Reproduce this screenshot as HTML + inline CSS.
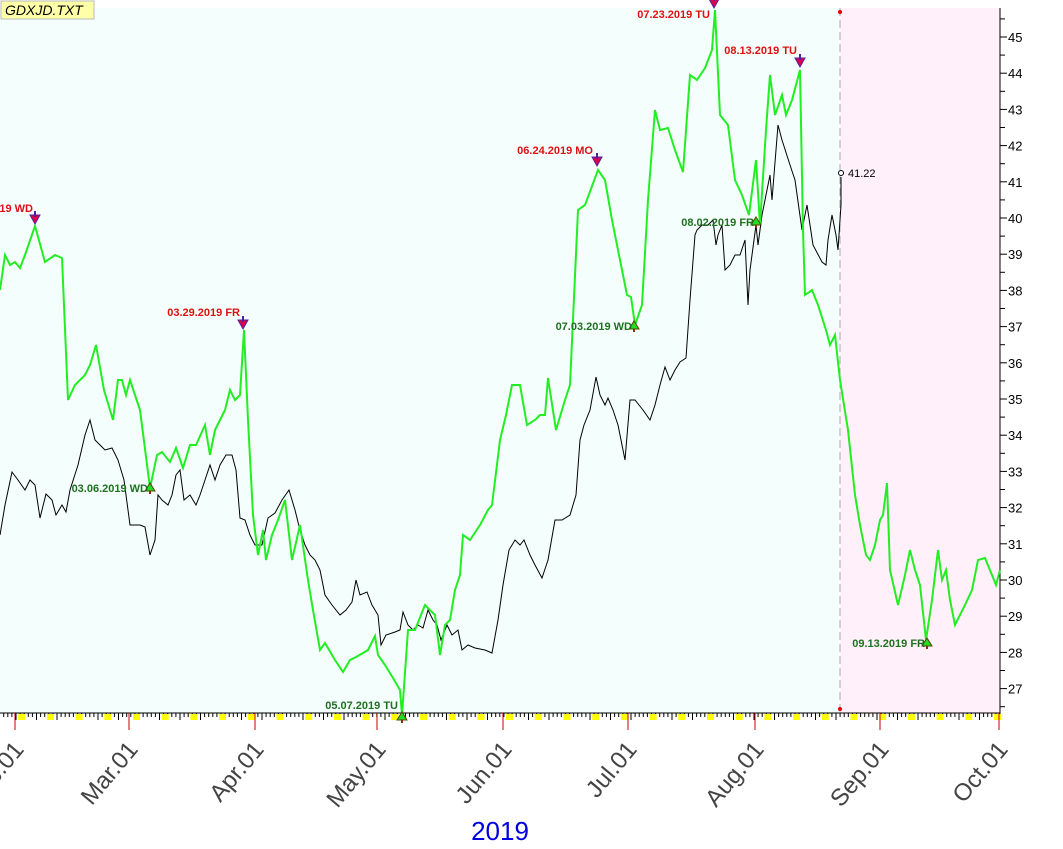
<!DOCTYPE html>
<html><head><meta charset="utf-8"><style>
html,body{margin:0;padding:0;background:#fff;}
svg{display:block;font-family:"Liberation Sans",Arial,sans-serif;}
</style></head><body>
<svg width="1063" height="849" viewBox="0 0 1063 849" xmlns="http://www.w3.org/2000/svg">
<rect x="0" y="8" width="840" height="705" fill="#f4fffd"/>
<rect x="840" y="8" width="160" height="705" fill="#fff0fa"/>
<line x1="840" y1="8" x2="840" y2="713" stroke="#aaa" stroke-dasharray="8,4"/>
<circle cx="840" cy="12" r="2" fill="#e00"/>
<circle cx="840" cy="709" r="2" fill="#e00"/>
<line x1="1000" y1="8" x2="1000" y2="713" stroke="#000"/>
<line x1="0" y1="713" x2="1000" y2="713" stroke="#000"/>
<g id="yax" font-size="13" fill="#000"></g>
<g id="xax"></g>
<polyline fill="none" stroke="#000" stroke-width="1" points="0,535 5,505 12,472 18,480 25,490 30,480 35,485 40,518 46,494 52,500 56,515 62,505 66,512 70,490 78,465 85,435 90,420 95,440 100,445 105,450 112,448 118,460 124,480 130,525 140,525 145,527 150,555 155,540 158,495 162,500 168,505 172,495 176,475 180,470 184,500 190,495 196,505 200,495 205,480 210,465 215,480 220,465 226,455 232,455 236,470 240,518 245,520 250,535 255,545 262,545 268,518 275,513 282,500 289,490 295,510 300,530 305,545 310,555 315,560 320,570 325,595 332,605 340,615 346,610 352,602 356,580 360,595 367,592 372,605 378,615 381,645 386,635 395,632 400,630 403,612 408,625 413,630 418,625 423,628 428,610 433,620 437,625 441,640 447,625 452,635 458,630 462,650 468,645 475,648 485,650 492,653 498,620 503,585 509,550 515,540 520,545 524,540 530,555 535,565 542,578 548,560 555,520 562,520 570,515 576,495 580,440 584,425 590,410 596,377 600,395 605,405 608,398 613,410 618,425 625,460 630,400 635,400 643,410 650,420 655,405 660,385 665,367 670,380 675,370 680,362 686,358 690,300 695,235 697,230 702,225 708,225 713,220 716,245 718,235 722,225 725,270 730,265 735,255 740,255 745,240 748,305 750,270 756,225 758,245 762,215 770,175 772,200 778,125 782,140 790,165 795,180 802,230 807,205 813,245 822,262 826,265 828,240 832,215 836,235 838,250 841,205 841,177"/>
<circle cx="841" cy="173" r="2.5" fill="#fff" stroke="#000"/>
<text x="848" y="177" font-size="11" fill="#000">41.22</text>
<polyline fill="none" stroke="#22ee22" stroke-width="2" points="0,290 5,255 10,265 15,262 20,268 25,255 35,226 45,262 55,255 62,258 68,400 75,385 85,375 90,365 96,345 104,390 113,420 118,380 122,380 126,395 130,380 140,410 150,488 157,455 162,452 170,462 176,448 183,468 190,445 196,445 205,425 210,455 215,430 225,410 230,390 235,400 240,395 244,330 248,420 253,515 258,555 263,530 266,560 272,535 278,520 285,500 292,560 300,525 308,580 313,610 320,650 325,643 335,660 343,672 350,660 358,656 368,650 375,636 378,655 385,665 393,678 400,690 402,715 408,630 415,630 425,605 435,615 440,655 445,625 450,620 455,590 460,575 463,535 470,540 480,525 488,510 492,505 500,440 506,415 512,385 520,385 527,425 535,420 540,415 545,415 548,378 556,430 565,400 570,385 578,210 585,205 598,170 605,180 612,220 620,260 627,295 631,297 635,325 642,305 648,200 655,110 660,130 668,128 675,150 683,172 690,75 697,80 705,68 712,50 715,10 720,115 728,125 735,180 742,195 749,215 756,160 760,225 766,130 770,75 775,115 782,95 786,115 792,100 800,70 803,230 805,295 812,290 818,305 826,330 830,345 835,335 840,380 848,430 855,495 860,525 866,555 870,560 875,545 880,520 883,515 887,483 890,570 898,605 905,575 910,550 915,570 920,585 926,640 932,600 938,550 942,580 946,570 950,600 955,625 965,605 972,590 978,560 985,558 992,575 996,585 1000,570"/>
<g id="marks" font-size="11" font-weight="bold"></g>
<rect x="1" y="1" width="93" height="18" fill="#ffffa8" stroke="#bbb"/>
<text x="5" y="15" font-size="14" font-style="italic" fill="#000">GDXJD.TXT</text>
<text x="500" y="840" font-size="26" fill="#0000dd" text-anchor="middle">2019</text>
<script>
var ns="http://www.w3.org/2000/svg";
function el(p,t,a,txt){var e=document.createElementNS(ns,t);for(var k in a)e.setAttribute(k,a[k]);if(txt)e.textContent=txt;p.appendChild(e);return e;}
var y=document.getElementById('yax');
function yv(v){return 37+(45-v)*36.2;}
for(var v=26.5;v<=45.5;v+=0.5){var yy=yv(v);if(yy<8||yy>712)continue;var maj=(v%1===0);
el(y,'line',{x1:1000,y1:yy,x2:maj?1007:1005,y2:yy,stroke:'#000'});
if(maj)el(y,'text',{x:1008,y:yy+5,'font-size':13},String(v));}
var x=document.getElementById('xax');
for(var i=0;i<245;i++){var xx=1000-i*4.1;if(xx<0)break;
el(x,'line',{x1:xx,y1:713,x2:xx,y2:i%5==0?720:717,stroke:'#000'});}
for(var i=0;i<36;i++){var xx=997-i*28.7;if(xx<0)break;el(x,'rect',{x:xx-3,y:714,width:7,height:6,fill:'#ff0'});}
var months=[["Feb.01",15],["Mar.01",129],["Apr.01",255],["May.01",377],["Jun.01",503],["Jul.01",628],["Aug.01",755],["Sep.01",880],["Oct.01",999]];
months.forEach(function(m){el(x,'line',{x1:m[1],y1:713,x2:m[1],y2:730,stroke:'#c00'});
el(x,'text',{x:m[1]+10,y:750,'font-size':24,fill:'#444','text-anchor':'end',transform:'rotate(-50 '+(m[1]+10)+' 750)'},m[0]);});
var mk=document.getElementById('marks');
function down(cx,cy){el(mk,'path',{d:'M'+(cx-5)+','+(cy-7)+' L'+(cx+5)+','+(cy-7)+' L'+cx+','+(cy+2)+' Z',fill:'#e0004a',stroke:'#5020a0'});el(mk,'line',{x1:cx,y1:cy-11,x2:cx,y2:cy-5,stroke:'#5020a0','stroke-width':2});}
function up(cx,cy){el(mk,'path',{d:'M'+(cx-5)+','+(cy+3)+' L'+(cx+5)+','+(cy+3)+' L'+cx+','+(cy-5)+' Z',fill:'#22dd22',stroke:'#554400'});el(mk,'line',{x1:cx,y1:cy+3,x2:cx,y2:cy+6,stroke:'#8a3000','stroke-width':2});}
[[35,222,"02.13.2019 WD",33,212],[243,327,"03.29.2019 FR",240,316],[597,164,"06.24.2019 MO",593,154],[714,6,"07.23.2019 TU",710,18],[800,65,"08.13.2019 TU",797,54]].forEach(function(a){down(a[0],a[1]);el(mk,'text',{x:a[3],y:a[4],fill:'#e01010','text-anchor':'end'},a[2]);});
[[150,488,"03.06.2019 WD",148,492],[402,717,"05.07.2019 TU",398,709],[634,326,"07.03.2019 WD",632,330],[756,222,"08.02.2019 FR",754,226],[927,643,"09.13.2019 FR",925,647]].forEach(function(a){up(a[0],a[1]);el(mk,'text',{x:a[3],y:a[4],fill:'#207020','text-anchor':'end'},a[2]);});
</script>
</svg>
</body></html>
